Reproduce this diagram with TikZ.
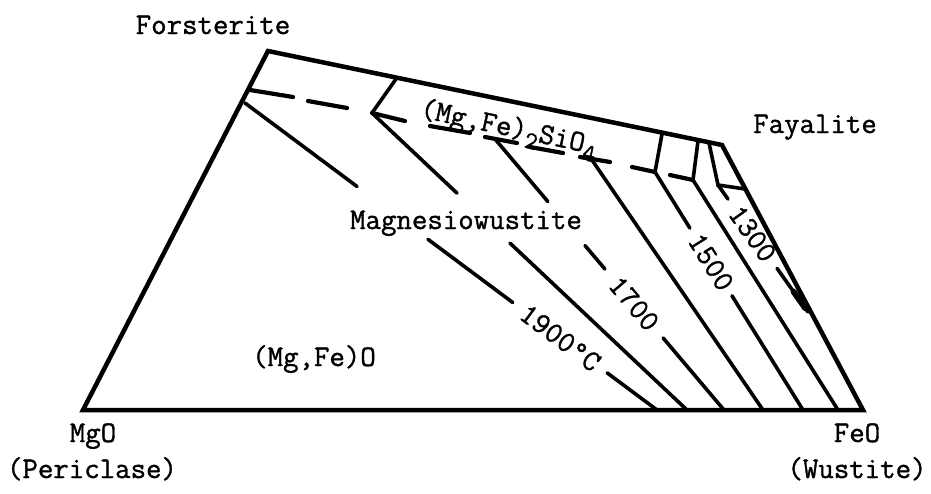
\documentclass[tikz,border=0pt]{standalone}
\usepackage{fontspec}
\usepackage{tikz}
\usetikzlibrary{calc}
\newfontfamily\typer{Latin Modern Mono}[FakeBold=1.2]
\newcommand{\lowsub}[1]{\raisebox{-8pt}{\fontsize{25}{30}\selectfont #1}}

\begin{document}
\begin{tikzpicture}[
      x=1pt,y=-1pt,
      font=\fontsize{30}{36}\selectfont\typer,
      outline/.style={line width=4.5pt},
      tie/.style={line width=3.6pt,line cap=round},
      dashseg/.style={line width=4.2pt,line cap=round},
      txt/.style={inner sep=0pt,anchor=base},
      iso/.style={sloped,inner sep=0pt}
    ]
    \useasboundingbox (0,0) rectangle (931,493);
    % corners of the section
    \coordinate (Pe) at (83,410);
    \coordinate (Wu) at (863,410);
    \coordinate (Fo) at (268,51);
    \coordinate (Fa) at (722,145);
    % ends of the tie lines
    \coordinate (t1) at (245,103);  \coordinate (b1) at (657,410);
    \coordinate (t2) at (372,113);  \coordinate (b2) at (687,410);
    \coordinate (t3) at (495,139);  \coordinate (b3) at (724,410);
    \coordinate (t4) at (592,160);  \coordinate (b4) at (763,410);
    \coordinate (t5) at (655,172);  \coordinate (b5) at (803,410);
    \coordinate (t6) at (693,180);  \coordinate (b6) at (838,410);
    \coordinate (t7) at (718,185);  \coordinate (b7) at (808,312);

    \draw[outline] (Pe) -- (Fo) -- (Fa) -- (Wu) -- cycle;

    % olivine limit, dashed
    \draw[dashseg] (250,90) -- (293,97) (308,101) -- (347,108)
      (t2) -- (405,121) (430,126) -- (470,133) (485,137) -- (517,143)
      (530,147) -- (563,153) (580,157) -- (610,162)
      (632,167) -- (t5) (670,175) -- (t6);
    \draw[tie] (t2) -- (396,79);
    \draw[tie] (t5) -- (662,134);
    \draw[tie] (t6) -- (698,141);
    \draw[tie] (709,143) -- (t7) -- (745,189);

    % tie lines, broken for the labels
    \draw[tie] (t1) -- ($(t1)!.272!(b1)$) ($(t1)!.444!(b1)$) -- ($(t1)!.65!(b1)$)
      ($(t1)!.879!(b1)$) -- (b1);
    \draw[tie] (t2) -- ($(t2)!.27!(b2)$) ($(t2)!.438!(b2)$) -- (b2);
    \draw[tie] (t3) -- ($(t3)!.231!(b3)$) ($(t3)!.393!(b3)$) -- ($(t3)!.48!(b3)$)
      ($(t3)!.734!(b3)$) -- (b3);
    \draw[tie] (t4) -- (b4);
    \draw[tie] (t5) -- ($(t5)!.236!(b5)$) ($(t5)!.52!(b5)$) -- (b5);
    \draw[tie] (t6) -- (b6);
    \draw[tie] (t7) -- ($(t7)!.111!(b7)$) ($(t7)!.656!(b7)$) -- (b7);
    \draw[tie,line width=6pt] ($(t7)!.84!(b7)$) -- ($(t7)!.97!(b7)$);

    % isotherms
    \path (t1) -- (b1) node[iso,pos=.765] (iso1900) {1900°C};
    \path (t3) -- (b3) node[iso,pos=.607] (iso1700) {1700};
    \path (t5) -- (b5) node[iso,pos=.378] (iso1500) {1500};
    \path (t7) -- (b7) node[iso,pos=.383] (iso1300) {1300};

    % names
    \node[txt] (forsterite) at (213,34) {Forsterite};
    \node[txt] (fayalite) at (815,133) {Fayalite};
    \node[inner sep=0pt,anchor=base west,rotate=-12] (olivine) at (419,117)
      {(Mg,Fe)\lowsub{2}SiO\lowsub{4}};
    \node[txt] (mw) at (466,229) {Magnesiowustite};
    \node[txt] (mwss) at (314,366) {(Mg,Fe)O};
    \node[txt] (mgo) at (93,442) {MgO};
    \node[txt] (periclase) at (92,478) {(Periclase)};
    \node[txt] (feo) at (857,442) {FeO};
    \node[txt] (wustite) at (857,478) {(Wustite)};
  \end{tikzpicture}
\end{document}
